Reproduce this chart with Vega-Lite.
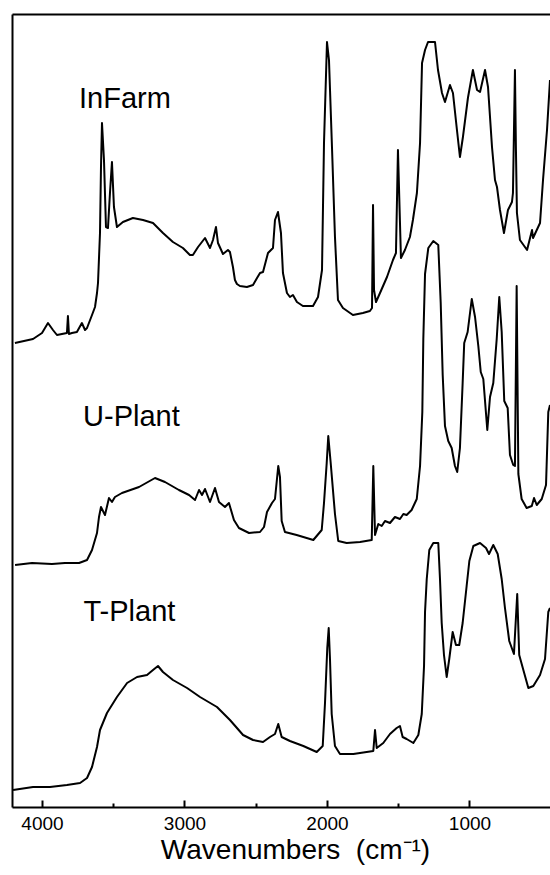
{
  "$schema": "https://vega.github.io/schema/vega-lite/v6.json",
  "width": 538,
  "height": 793,
  "autosize": {"type": "none"},
  "padding": {"left": 12, "top": 14, "right": 0, "bottom": 68},
  "background": "white",
  "config": {"view": {"stroke": null}, "font": "Liberation Sans"},
  "datasets": {
    "spectra": [
      {"s":"InFarm","wn":4190,"h":464},{"s":"InFarm","wn":4063,"h":468},{"s":"InFarm","wn":4000,"h":474},{"s":"InFarm","wn":3958,"h":484},{"s":"InFarm","wn":3923,"h":477},{"s":"InFarm","wn":3895,"h":472},{"s":"InFarm","wn":3860,"h":473},{"s":"InFarm","wn":3825,"h":474},{"s":"InFarm","wn":3818,"h":491},{"s":"InFarm","wn":3811,"h":473},{"s":"InFarm","wn":3790,"h":474},{"s":"InFarm","wn":3755,"h":475},{"s":"InFarm","wn":3720,"h":484},{"s":"InFarm","wn":3698,"h":477},{"s":"InFarm","wn":3684,"h":479},{"s":"InFarm","wn":3649,"h":492},{"s":"InFarm","wn":3628,"h":500},{"s":"InFarm","wn":3614,"h":514},{"s":"InFarm","wn":3607,"h":524},{"s":"InFarm","wn":3593,"h":574},{"s":"InFarm","wn":3586,"h":640},{"s":"InFarm","wn":3579,"h":684},{"s":"InFarm","wn":3565,"h":647},{"s":"InFarm","wn":3551,"h":580},{"s":"InFarm","wn":3537,"h":579},{"s":"InFarm","wn":3523,"h":614},{"s":"InFarm","wn":3509,"h":645},{"s":"InFarm","wn":3495,"h":600},{"s":"InFarm","wn":3474,"h":580},{"s":"InFarm","wn":3432,"h":585},{"s":"InFarm","wn":3362,"h":589},{"s":"InFarm","wn":3291,"h":587},{"s":"InFarm","wn":3221,"h":584},{"s":"InFarm","wn":3151,"h":574},{"s":"InFarm","wn":3081,"h":565},{"s":"InFarm","wn":3011,"h":559},{"s":"InFarm","wn":2962,"h":552},{"s":"InFarm","wn":2941,"h":552},{"s":"InFarm","wn":2905,"h":560},{"s":"InFarm","wn":2856,"h":569},{"s":"InFarm","wn":2821,"h":559},{"s":"InFarm","wn":2800,"h":567},{"s":"InFarm","wn":2779,"h":580},{"s":"InFarm","wn":2765,"h":564},{"s":"InFarm","wn":2730,"h":553},{"s":"InFarm","wn":2695,"h":557},{"s":"InFarm","wn":2681,"h":555},{"s":"InFarm","wn":2660,"h":540},{"s":"InFarm","wn":2646,"h":527},{"s":"InFarm","wn":2632,"h":523},{"s":"InFarm","wn":2611,"h":521},{"s":"InFarm","wn":2562,"h":520},{"s":"InFarm","wn":2519,"h":522},{"s":"InFarm","wn":2491,"h":529},{"s":"InFarm","wn":2470,"h":534},{"s":"InFarm","wn":2449,"h":535},{"s":"InFarm","wn":2414,"h":554},{"s":"InFarm","wn":2379,"h":559},{"s":"InFarm","wn":2365,"h":587},{"s":"InFarm","wn":2344,"h":595},{"s":"InFarm","wn":2323,"h":574},{"s":"InFarm","wn":2309,"h":534},{"s":"InFarm","wn":2281,"h":514},{"s":"InFarm","wn":2260,"h":510},{"s":"InFarm","wn":2239,"h":512},{"s":"InFarm","wn":2211,"h":505},{"s":"InFarm","wn":2169,"h":501},{"s":"InFarm","wn":2098,"h":501},{"s":"InFarm","wn":2063,"h":510},{"s":"InFarm","wn":2035,"h":537},{"s":"InFarm","wn":2021,"h":664},{"s":"InFarm","wn":2000,"h":765},{"s":"InFarm","wn":1986,"h":747},{"s":"InFarm","wn":1965,"h":660},{"s":"InFarm","wn":1944,"h":570},{"s":"InFarm","wn":1923,"h":507},{"s":"InFarm","wn":1888,"h":499},{"s":"InFarm","wn":1818,"h":492},{"s":"InFarm","wn":1748,"h":494},{"s":"InFarm","wn":1699,"h":496},{"s":"InFarm","wn":1684,"h":499},{"s":"InFarm","wn":1677,"h":602},{"s":"InFarm","wn":1670,"h":517},{"s":"InFarm","wn":1656,"h":505},{"s":"InFarm","wn":1628,"h":514},{"s":"InFarm","wn":1579,"h":530},{"s":"InFarm","wn":1537,"h":547},{"s":"InFarm","wn":1516,"h":554},{"s":"InFarm","wn":1502,"h":657},{"s":"InFarm","wn":1481,"h":549},{"s":"InFarm","wn":1453,"h":557},{"s":"InFarm","wn":1418,"h":570},{"s":"InFarm","wn":1397,"h":587},{"s":"InFarm","wn":1369,"h":614},{"s":"InFarm","wn":1347,"h":664},{"s":"InFarm","wn":1333,"h":744},{"s":"InFarm","wn":1312,"h":757},{"s":"InFarm","wn":1291,"h":765},{"s":"InFarm","wn":1242,"h":765},{"s":"InFarm","wn":1221,"h":737},{"s":"InFarm","wn":1193,"h":714},{"s":"InFarm","wn":1172,"h":705},{"s":"InFarm","wn":1137,"h":722},{"s":"InFarm","wn":1116,"h":714},{"s":"InFarm","wn":1088,"h":677},{"s":"InFarm","wn":1067,"h":650},{"s":"InFarm","wn":1046,"h":670},{"s":"InFarm","wn":1011,"h":709},{"s":"InFarm","wn":976,"h":737},{"s":"InFarm","wn":947,"h":717},{"s":"InFarm","wn":926,"h":715},{"s":"InFarm","wn":891,"h":737},{"s":"InFarm","wn":870,"h":720},{"s":"InFarm","wn":842,"h":660},{"s":"InFarm","wn":821,"h":627},{"s":"InFarm","wn":807,"h":620},{"s":"InFarm","wn":786,"h":597},{"s":"InFarm","wn":758,"h":574},{"s":"InFarm","wn":730,"h":597},{"s":"InFarm","wn":702,"h":605},{"s":"InFarm","wn":695,"h":614},{"s":"InFarm","wn":681,"h":737},{"s":"InFarm","wn":674,"h":657},{"s":"InFarm","wn":667,"h":594},{"s":"InFarm","wn":646,"h":567},{"s":"InFarm","wn":596,"h":557},{"s":"InFarm","wn":561,"h":577},{"s":"InFarm","wn":554,"h":569},{"s":"InFarm","wn":505,"h":584},{"s":"InFarm","wn":484,"h":627},{"s":"InFarm","wn":456,"h":677},{"s":"InFarm","wn":435,"h":727},
      {"s":"U-Plant","wn":4189,"h":242},{"s":"U-Plant","wn":4070,"h":244},{"s":"U-Plant","wn":3930,"h":243},{"s":"U-Plant","wn":3839,"h":244},{"s":"U-Plant","wn":3740,"h":244},{"s":"U-Plant","wn":3684,"h":247},{"s":"U-Plant","wn":3649,"h":257},{"s":"U-Plant","wn":3614,"h":274},{"s":"U-Plant","wn":3600,"h":290},{"s":"U-Plant","wn":3586,"h":300},{"s":"U-Plant","wn":3558,"h":292},{"s":"U-Plant","wn":3530,"h":309},{"s":"U-Plant","wn":3509,"h":305},{"s":"U-Plant","wn":3488,"h":310},{"s":"U-Plant","wn":3439,"h":314},{"s":"U-Plant","wn":3319,"h":320},{"s":"U-Plant","wn":3207,"h":329},{"s":"U-Plant","wn":3137,"h":325},{"s":"U-Plant","wn":3039,"h":317},{"s":"U-Plant","wn":2968,"h":312},{"s":"U-Plant","wn":2926,"h":307},{"s":"U-Plant","wn":2898,"h":317},{"s":"U-Plant","wn":2877,"h":312},{"s":"U-Plant","wn":2856,"h":318},{"s":"U-Plant","wn":2821,"h":305},{"s":"U-Plant","wn":2786,"h":319},{"s":"U-Plant","wn":2758,"h":305},{"s":"U-Plant","wn":2716,"h":300},{"s":"U-Plant","wn":2688,"h":304},{"s":"U-Plant","wn":2653,"h":287},{"s":"U-Plant","wn":2618,"h":279},{"s":"U-Plant","wn":2547,"h":274},{"s":"U-Plant","wn":2470,"h":275},{"s":"U-Plant","wn":2442,"h":280},{"s":"U-Plant","wn":2421,"h":295},{"s":"U-Plant","wn":2386,"h":304},{"s":"U-Plant","wn":2365,"h":308},{"s":"U-Plant","wn":2342,"h":341},{"s":"U-Plant","wn":2330,"h":330},{"s":"U-Plant","wn":2318,"h":286},{"s":"U-Plant","wn":2295,"h":275},{"s":"U-Plant","wn":2213,"h":272},{"s":"U-Plant","wn":2096,"h":267},{"s":"U-Plant","wn":2037,"h":277},{"s":"U-Plant","wn":2021,"h":304},{"s":"U-Plant","wn":2002,"h":344},{"s":"U-Plant","wn":1991,"h":371},{"s":"U-Plant","wn":1974,"h":344},{"s":"U-Plant","wn":1944,"h":293},{"s":"U-Plant","wn":1921,"h":266},{"s":"U-Plant","wn":1862,"h":264},{"s":"U-Plant","wn":1768,"h":265},{"s":"U-Plant","wn":1686,"h":267},{"s":"U-Plant","wn":1675,"h":341},{"s":"U-Plant","wn":1663,"h":272},{"s":"U-Plant","wn":1640,"h":283},{"s":"U-Plant","wn":1616,"h":281},{"s":"U-Plant","wn":1593,"h":286},{"s":"U-Plant","wn":1558,"h":284},{"s":"U-Plant","wn":1523,"h":290},{"s":"U-Plant","wn":1488,"h":288},{"s":"U-Plant","wn":1464,"h":293},{"s":"U-Plant","wn":1441,"h":292},{"s":"U-Plant","wn":1406,"h":297},{"s":"U-Plant","wn":1370,"h":308},{"s":"U-Plant","wn":1347,"h":341},{"s":"U-Plant","wn":1331,"h":395},{"s":"U-Plant","wn":1324,"h":468},{"s":"U-Plant","wn":1312,"h":533},{"s":"U-Plant","wn":1289,"h":559},{"s":"U-Plant","wn":1254,"h":566},{"s":"U-Plant","wn":1219,"h":562},{"s":"U-Plant","wn":1202,"h":504},{"s":"U-Plant","wn":1188,"h":432},{"s":"U-Plant","wn":1172,"h":381},{"s":"U-Plant","wn":1149,"h":366},{"s":"U-Plant","wn":1125,"h":359},{"s":"U-Plant","wn":1102,"h":341},{"s":"U-Plant","wn":1086,"h":335},{"s":"U-Plant","wn":1067,"h":359},{"s":"U-Plant","wn":1048,"h":424},{"s":"U-Plant","wn":1037,"h":464},{"s":"U-Plant","wn":1013,"h":475},{"s":"U-Plant","wn":984,"h":508},{"s":"U-Plant","wn":961,"h":490},{"s":"U-Plant","wn":938,"h":461},{"s":"U-Plant","wn":921,"h":435},{"s":"U-Plant","wn":903,"h":428},{"s":"U-Plant","wn":875,"h":377},{"s":"U-Plant","wn":856,"h":410},{"s":"U-Plant","wn":833,"h":424},{"s":"U-Plant","wn":809,"h":468},{"s":"U-Plant","wn":791,"h":510},{"s":"U-Plant","wn":774,"h":475},{"s":"U-Plant","wn":756,"h":406},{"s":"U-Plant","wn":732,"h":399},{"s":"U-Plant","wn":716,"h":352},{"s":"U-Plant","wn":693,"h":342},{"s":"U-Plant","wn":681,"h":341},{"s":"U-Plant","wn":669,"h":521},{"s":"U-Plant","wn":657,"h":333},{"s":"U-Plant","wn":634,"h":308},{"s":"U-Plant","wn":599,"h":299},{"s":"U-Plant","wn":563,"h":301},{"s":"U-Plant","wn":547,"h":309},{"s":"U-Plant","wn":528,"h":302},{"s":"U-Plant","wn":493,"h":308},{"s":"U-Plant","wn":463,"h":322},{"s":"U-Plant","wn":447,"h":395},{"s":"U-Plant","wn":435,"h":402},
      {"s":"T-Plant","wn":4203,"h":17},{"s":"T-Plant","wn":4063,"h":20},{"s":"T-Plant","wn":3944,"h":20},{"s":"T-Plant","wn":3825,"h":22},{"s":"T-Plant","wn":3733,"h":24},{"s":"T-Plant","wn":3684,"h":29},{"s":"T-Plant","wn":3649,"h":40},{"s":"T-Plant","wn":3614,"h":60},{"s":"T-Plant","wn":3593,"h":77},{"s":"T-Plant","wn":3544,"h":94},{"s":"T-Plant","wn":3474,"h":110},{"s":"T-Plant","wn":3403,"h":124},{"s":"T-Plant","wn":3333,"h":130},{"s":"T-Plant","wn":3263,"h":132},{"s":"T-Plant","wn":3221,"h":137},{"s":"T-Plant","wn":3186,"h":141},{"s":"T-Plant","wn":3151,"h":135},{"s":"T-Plant","wn":3081,"h":127},{"s":"T-Plant","wn":2982,"h":119},{"s":"T-Plant","wn":2891,"h":110},{"s":"T-Plant","wn":2772,"h":100},{"s":"T-Plant","wn":2681,"h":87},{"s":"T-Plant","wn":2589,"h":72},{"s":"T-Plant","wn":2519,"h":67},{"s":"T-Plant","wn":2449,"h":65},{"s":"T-Plant","wn":2400,"h":70},{"s":"T-Plant","wn":2365,"h":73},{"s":"T-Plant","wn":2342,"h":83},{"s":"T-Plant","wn":2318,"h":70},{"s":"T-Plant","wn":2260,"h":66},{"s":"T-Plant","wn":2166,"h":61},{"s":"T-Plant","wn":2072,"h":55},{"s":"T-Plant","wn":2030,"h":61},{"s":"T-Plant","wn":2014,"h":104},{"s":"T-Plant","wn":1998,"h":159},{"s":"T-Plant","wn":1988,"h":179},{"s":"T-Plant","wn":1979,"h":148},{"s":"T-Plant","wn":1967,"h":93},{"s":"T-Plant","wn":1944,"h":61},{"s":"T-Plant","wn":1909,"h":53},{"s":"T-Plant","wn":1815,"h":53},{"s":"T-Plant","wn":1675,"h":56},{"s":"T-Plant","wn":1663,"h":77},{"s":"T-Plant","wn":1651,"h":59},{"s":"T-Plant","wn":1605,"h":64},{"s":"T-Plant","wn":1558,"h":73},{"s":"T-Plant","wn":1511,"h":79},{"s":"T-Plant","wn":1488,"h":81},{"s":"T-Plant","wn":1469,"h":70},{"s":"T-Plant","wn":1441,"h":68},{"s":"T-Plant","wn":1394,"h":64},{"s":"T-Plant","wn":1359,"h":72},{"s":"T-Plant","wn":1335,"h":93},{"s":"T-Plant","wn":1319,"h":141},{"s":"T-Plant","wn":1312,"h":195},{"s":"T-Plant","wn":1300,"h":228},{"s":"T-Plant","wn":1282,"h":257},{"s":"T-Plant","wn":1254,"h":264},{"s":"T-Plant","wn":1219,"h":264},{"s":"T-Plant","wn":1207,"h":228},{"s":"T-Plant","wn":1195,"h":184},{"s":"T-Plant","wn":1179,"h":152},{"s":"T-Plant","wn":1160,"h":130},{"s":"T-Plant","wn":1142,"h":148},{"s":"T-Plant","wn":1118,"h":175},{"s":"T-Plant","wn":1095,"h":162},{"s":"T-Plant","wn":1072,"h":162},{"s":"T-Plant","wn":1048,"h":184},{"s":"T-Plant","wn":1020,"h":221},{"s":"T-Plant","wn":1001,"h":246},{"s":"T-Plant","wn":973,"h":261},{"s":"T-Plant","wn":926,"h":264},{"s":"T-Plant","wn":884,"h":259},{"s":"T-Plant","wn":863,"h":253},{"s":"T-Plant","wn":833,"h":262},{"s":"T-Plant","wn":802,"h":253},{"s":"T-Plant","wn":774,"h":228},{"s":"T-Plant","wn":751,"h":199},{"s":"T-Plant","wn":721,"h":166},{"s":"T-Plant","wn":688,"h":153},{"s":"T-Plant","wn":665,"h":213},{"s":"T-Plant","wn":651,"h":152},{"s":"T-Plant","wn":622,"h":137},{"s":"T-Plant","wn":587,"h":119},{"s":"T-Plant","wn":552,"h":121},{"s":"T-Plant","wn":505,"h":132},{"s":"T-Plant","wn":470,"h":148},{"s":"T-Plant","wn":447,"h":195},{"s":"T-Plant","wn":435,"h":199}
    ],
    "labels": [
      {"label": "InFarm", "wn": 3740, "h": 699},
      {"label": "U-Plant", "wn": 3712, "h": 381},
      {"label": "T-Plant", "wn": 3709, "h": 186}
    ]
  },
  "layer": [
    {
      "data": {"name": "spectra"},
      "mark": {"type": "line", "color": "black", "strokeWidth": 2, "strokeJoin": "round"},
      "encoding": {
        "x": {
          "field": "wn", "type": "quantitative",
          "scale": {"domain": [435, 4210.5], "reverse": true, "nice": false, "zero": false},
          "axis": {
            "orient": "bottom",
            "values": [4000, 3500, 3000, 2500, 2000, 1500, 1000],
            "format": "d",
            "labelExpr": "datum.value % 1000 === 0 ? datum.label : ''",
            "tickSize": {"condition": {"test": "datum.value % 1000 === 0", "value": -7}, "value": -4},
            "tickWidth": 2,
            "tickColor": "black",
            "domainColor": "black",
            "domainWidth": 2,
            "grid": false,
            "labelFont": "Liberation Sans",
            "labelFontSize": 19,
            "labelColor": "black",
            "labelPadding": 14,
            "labelFlush": false,
            "labelOverlap": false,
            "title": "Wavenumbers\u00a0\u00a0(cm⁻¹)",
            "titleFont": "Liberation Sans",
            "titleFontSize": 28,
            "titleFontWeight": "normal",
            "titleColor": "black",
            "titlePadding": 0,
            "titleX": 283
          }
        },
        "y": {
          "field": "h", "type": "quantitative",
          "scale": {"domain": [0, 793], "nice": false, "zero": false},
          "axis": {"orient": "left", "title": null, "labels": false, "ticks": false, "grid": false, "domainColor": "black", "domainWidth": 2}
        },
        "detail": {"field": "s", "type": "nominal"}
      }
    },
    {
      "data": {"name": "labels"},
      "mark": {"type": "text", "align": "left", "baseline": "alphabetic", "font": "Liberation Sans", "fontSize": 29, "color": "black"},
      "encoding": {
        "x": {"field": "wn", "type": "quantitative", "axis": {"orient": "top", "title": null, "labels": false, "ticks": false, "grid": false, "domainColor": "black", "domainWidth": 2}},
        "y": {"field": "h", "type": "quantitative", "axis": null},
        "text": {"field": "label", "type": "nominal"}
      }
    }
  ],
  "resolve": {"axis": {"x": "independent", "y": "independent"}}
}
